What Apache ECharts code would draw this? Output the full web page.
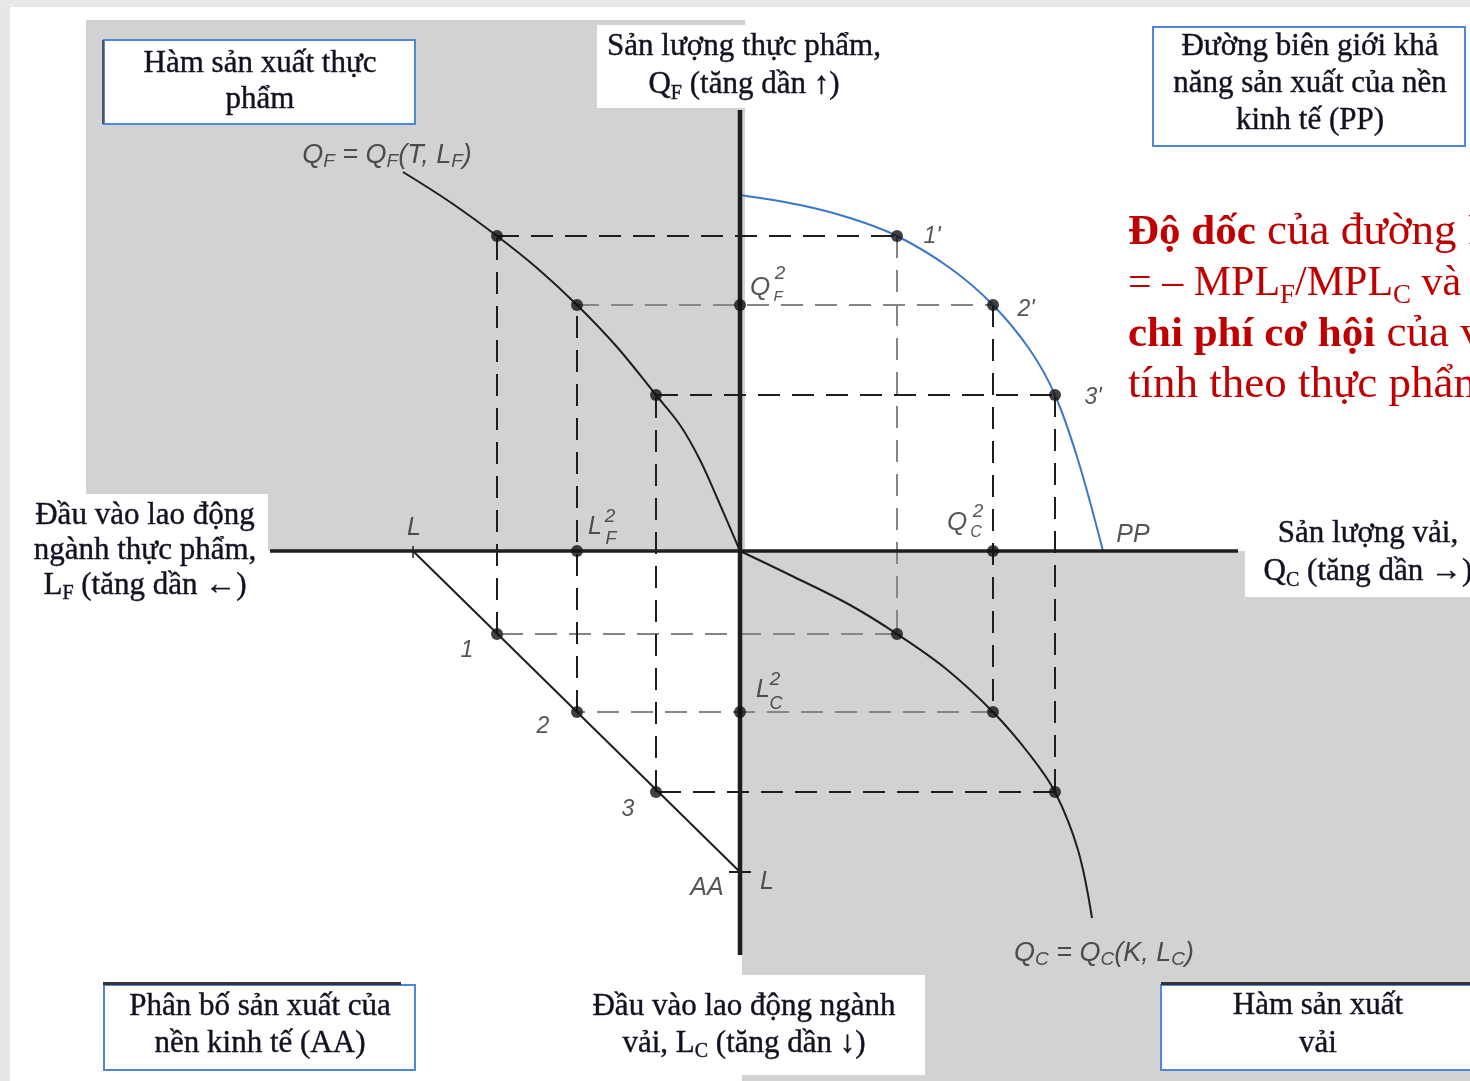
<!DOCTYPE html>
<html>
<head>
<meta charset="UTF-8">
<title>Mô hình yếu tố đặc thù</title>
<style>
    html, body { margin: 0; padding: 0; width: 100%; height: 100%; background: #fff; }
    #main { width: 1470px; height: 1081px; }
</style>
<script src="https://cdn.jsdelivr.net/npm/echarts@6/dist/echarts.min.js"></script>
</head>
<body>
<div id="main"></div>
<script type="text/javascript">
    // 3 điểm phân bổ lao động 1, 2, 3
    var lfPts = [243, 163, 84];    // L_F (tăng sang trái)
    var qfPts = [315, 246, 156];   // Q_F
    var lcPts = [83, 161, 241];    // L_C (tăng xuống dưới)
    var qcPts = [157, 253, 315];   // Q_C

    // hàm sản xuất thực phẩm Q_F(L_F)
    var foodLF = [337, 290, 243, 203, 163, 123, 84, 60, 40, 22, 0];
    var foodQF = [379, 349, 315, 283, 246, 204, 156, 126, 91, 51, 0];
    // đường PP
    var ppQC = [0, 60, 110, 157, 210, 253, 290, 315, 338, 363];
    var ppQF = [356, 346, 333, 315, 283, 246, 201, 156, 91, 0];
    // hàm sản xuất vải Q_C(L_C)
    var clothQC = [0, 50, 110, 157, 205, 253, 290, 315, 338, 352];
    var clothLC = [0, 24, 54, 83, 117, 161, 204, 241, 299, 367];
    // tổng lao động L (trục trái, trục dưới)
    var laborLeft = 327;
    var laborDown = 321;

    var ink = '#1e1e1e';
    var soft = '#858585';
    var dash = [22, 12];

    function seg(a, b, color, type, width) {
        return {
            type: 'line', data: [a, b], symbol: 'none', silent: true, z: 3,
            lineStyle: { color: color, width: width || 2, type: type || 'solid' }
        };
    }
    function curve(xs, ys, sx, sy, color) {
        var d = [];
        for (var i = 0; i < xs.length; i++) d.push([sx * xs[i], sy * ys[i]]);
        return {
            type: 'line', data: d, smooth: 0.35, symbol: 'none', silent: true, z: 4,
            lineStyle: { color: color, width: 2 }
        };
    }

    var series = [];
    // nền xám
    series.push({
        type: 'line', data: [], silent: true, z: 1,
        markArea: {
            silent: true, itemStyle: { color: '#d1d2d4' },
            data: [
                [{ coord: [-654, 531] }, { coord: [5, 0] }],
                [{ coord: [2, 0] }, { coord: [730, -530] }]
            ]
        }
    });

    // các đường nét đứt
    var edgeColors = [
        [ink, soft, soft, ink],
        [soft, ink, soft, ink],
        [ink, ink, ink, ink]
    ];
    for (var i = 0; i < 3; i++) {
        var A = [-lfPts[i], qfPts[i]], B = [qcPts[i], qfPts[i]];
        var C = [qcPts[i], -lcPts[i]], D = [-lfPts[i], -lcPts[i]];
        series.push(seg(A, B, edgeColors[i][0], dash));
        series.push(seg(B, C, edgeColors[i][1], dash));
        series.push(seg(C, D, edgeColors[i][2], dash));
        series.push(seg(D, A, edgeColors[i][3], dash));
    }

    // trục
    var axisH = seg([-470, 0], [498, 0], ink, 'solid', 3.5); axisH.z = 6;
    var axisV = seg([0, 441], [0, -404], ink, 'solid', 4.5); axisV.z = 6;
    series.push(axisH, axisV);

    // các đường cong
    series.push(curve(foodLF, foodQF, -1, 1, ink));
    series.push(curve(ppQC, ppQF, 1, 1, '#3b78c6'));
    series.push(curve(clothQC, clothLC, 1, -1, ink));

    // đường AA và vạch L
    series.push(seg([-laborLeft, 0], [0, -laborDown], ink, 'solid', 2));
    series.push(seg([-laborLeft, 5], [-laborLeft, -7], ink, 'solid', 1.5));
    series.push(seg([-11, -laborDown], [11, -laborDown], ink, 'solid', 2));

    // các điểm
    var dots = [];
    for (var j = 0; j < 3; j++) {
        dots.push([-lfPts[j], qfPts[j]], [qcPts[j], qfPts[j]], [qcPts[j], -lcPts[j]], [-lfPts[j], -lcPts[j]]);
    }
    dots.push([0, qfPts[1]], [-lfPts[1], 0], [0, -lcPts[1]], [qcPts[1], 0]);
    series.push({
        type: 'scatter', data: dots, symbolSize: 12, silent: true, z: 8,
        itemStyle: { color: '#111' }
    });

    // nhãn
    var labelColor = '#2b2b2b';
    var notes = [
        ['{m|Q}{s|F}{m| = Q}{s|F}{m|(T, L}{s|F}{m|)}', -353, 396, 27],
        ["1'", 192, 314, 23], ["2'", 286, 241, 23], ["3'", 353, 153, 23],
        ['PP', 393, 16, 25],
        ['Q', 20, 263, 26], ['2', 40, 277, 19], ['F', 38, 254, 15],
        ['Q', 217, 28, 26], ['2', 238, 39, 19], ['C', 236, 18, 16],
        ['L', -326, 23, 25],
        ['L', -145, 24, 25], ['2', -130, 34, 19], ['F', -129, 12, 18],
        ['1', -273, -100, 23], ['2', -197, -176, 23], ['3', -112, -259, 23],
        ['L', 23, -139, 25], ['2', 35, -129, 19], ['C', 36, -153, 18],
        ['AA', -33, -337, 25], ['L', 27, -331, 25],
        ['{m|Q}{s|C}{m| = Q}{s|C}{m|(K, L}{s|C}{m|)}', 364, -402, 27]
    ];
    series.push({
        type: 'scatter', symbolSize: 1, silent: true, z: 9,
        itemStyle: { color: 'rgba(0,0,0,0)' },
        data: notes.map(function (n) {
            return {
                value: [n[1], n[2]],
                label: {
                    show: true, position: 'inside', formatter: n[0],
                    fontSize: n[3], fontStyle: 'italic', fontFamily: 'Liberation Sans',
                    color: labelColor,
                    rich: {
                        m: { fontSize: 27, fontStyle: 'italic', lineHeight: 32, color: labelColor, fontFamily: 'Liberation Sans' },
                        s: { fontSize: 19, fontStyle: 'italic', lineHeight: 19, verticalAlign: 'bottom', color: labelColor, fontFamily: 'Liberation Sans' }
                    }
                }
            };
        })
    });

    // hộp chữ
    var serif = 'Liberation Serif';
    var txtColor = '#111122';
    var subRich = {
        s: { fontSize: 20, fontFamily: serif, fill: txtColor, color: txtColor, lineHeight: 30, verticalAlign: 'bottom' }
    };
    function box(x, y, w, h, text, cx, cy, lh, border) {
        var children = [{
            type: 'rect', z: 100, shape: { x: x, y: y, width: w, height: h },
            style: { fill: '#fff', stroke: border ? '#4f86d6' : null, lineWidth: border ? 2 : 0 }
        }, {
            type: 'text', z: 102,
            style: {
                text: text, x: cx, y: cy, fill: txtColor,
                stroke: txtColor, lineWidth: 0.4,
                fontSize: 31, fontFamily: serif, lineHeight: lh,
                align: 'center', verticalAlign: 'middle',
                textAlign: 'center', textVerticalAlign: 'middle',
                rich: subRich
            }
        }];
        return { type: 'group', z: 100, children: children };
    }

    var graphics = [
        { type: 'rect', z: 100, shape: { x: 0, y: 0, width: 10, height: 1081 }, style: { fill: '#e6e6e6' } },
        { type: 'rect', z: 100, shape: { x: 0, y: 0, width: 1470, height: 7 }, style: { fill: '#e8e8e8' } },
        box(104, 40, 311, 84, 'Hàm sản xuất thực\nphẩm', 260, 82, 36, true),
        { type: 'rect', z: 101, shape: { x: 102, y: 40, width: 2, height: 84 }, style: { fill: '#555' } },
        box(597, 25, 300, 83, 'Sản lượng thực phẩm,\nQ{s|F} (tăng dần ↑)', 744, 66, 38, false),
        box(1153, 27, 312, 119, 'Đường biên giới khả\nnăng sản xuất của nền\nkinh tế (PP)', 1310, 84, 37, true),
        box(10, 494, 258, 106, 'Đầu vào lao động\nngành thực phẩm,\nL{s|F} (tăng dần ←)', 145, 551, 35, false),
        box(1245, 510, 240, 87, 'Sản lượng vải,\nQ{s|C} (tăng dần →)', 1368, 553, 38, false),
        box(104, 985, 311, 85, 'Phân bố sản xuất của\nnền kinh tế (AA)', 260, 1025, 37, true),
        { type: 'rect', z: 101, shape: { x: 103, y: 982, width: 298, height: 3 }, style: { fill: '#333' } },
        box(560, 975, 365, 100, 'Đầu vào lao động ngành\nvải, L{s|C} (tăng dần ↓)', 744, 1025, 37, false),
        box(1161, 985, 320, 85, 'Hàm sản xuất\nvải', 1318, 1025, 38, true),
        { type: 'rect', z: 101, shape: { x: 1161, y: 982, width: 309, height: 3 }, style: { fill: '#333' } },
        {
            type: 'text', z: 100,
            style: {
                text: '{b|Độ dốc} của đường PP\n{e|= – MPL}{s|F}{e|/MPL}{s|C}{e| và}\n{b|chi phí cơ hội} của vải\ntính theo thực phẩm',
                x: 1128, y: 207, fill: '#c00000', fontSize: 45, fontFamily: serif, lineHeight: 51,
                align: 'left', verticalAlign: 'top', textAlign: 'left', textVerticalAlign: 'top',
                rich: {
                    b: { fontWeight: 'bold', fontSize: 43, fontFamily: serif, fill: '#c00000', color: '#c00000', lineHeight: 51 },
                    e: { fontSize: 42, fontFamily: serif, fill: '#c00000', color: '#c00000', lineHeight: 51 },
                    s: { fontSize: 27, fontFamily: serif, fill: '#c00000', color: '#c00000', lineHeight: 38, verticalAlign: 'bottom' }
                }
            }
        }
    ];

    var myChart = echarts.init(document.getElementById('main'));
    var option = {
        backgroundColor: '#fff',
        animation: false,
        grid: { left: 0, right: 0, top: 0, bottom: 0 },
        xAxis: { type: 'value', min: -740, max: 730, show: false },
        yAxis: { type: 'value', min: -530, max: 551, show: false },
        graphic: graphics,
        series: series
    };
    myChart.setOption(option);
</script>
</body>
</html>
